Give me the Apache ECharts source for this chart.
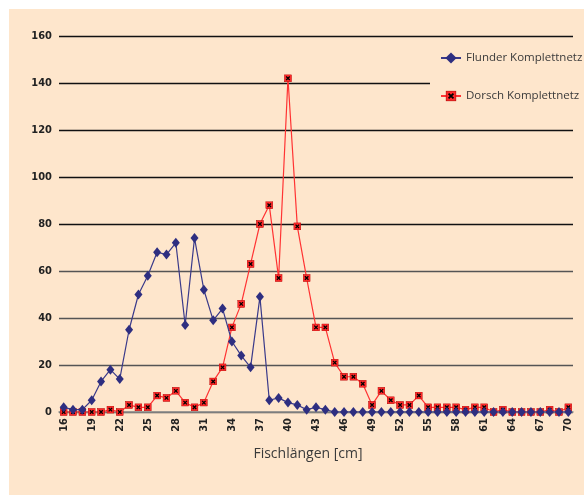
<!DOCTYPE html>
<html>
<head>
<meta charset="utf-8">
<script src="https://cdn.jsdelivr.net/npm/echarts@6/dist/echarts.min.js"></script>
<style>
html,body{margin:0;padding:0;background:#ffffff;}
#bg{position:absolute;left:9px;top:9px;width:575px;height:486px;background:#fee6cc;}
#chart{position:absolute;left:0;top:0;width:584px;height:495px;}
</style>
</head>
<body>
<div id="bg"></div>
<div id="chart"></div>
<script>
var lengths = [];
for (var L = 16; L <= 70; L++) lengths.push(String(L));

var flunder = [2,1,1,5,13,18,14,35,50,58,68,67,72,37,74,52,39,44,30,24,19,49,5,6,4,3,1,2,1,0,
  0,0,0,0,0,0,0,0,0,0,0,0,0,0,0,0,0,0,0,0,0,0,0,0,0];
var dorsch = [0,0,0,0,0,1,0,3,2,2,7,6,9,4,2,4,13,19,36,46,63,80,88,57,142,79,57,36,36,21,
  15,15,12,3,9,5,3,3,7,2,2,2,2,1,2,2,0,1,0,0,0,0,1,0,2];

var seriesNames = ['Flunder Komplettnetz', 'Dorsch Komplettnetz'];
var xTitle = 'Fischlängen [cm]';

var svg = "<svg xmlns='http://www.w3.org/2000/svg' width='16' height='16'>" +
  "<rect x='1' y='1' width='14' height='14' fill='#ff2a2a' stroke='#b00000' stroke-width='1'/>" +
  "<path d='M4.5 4.5L11.5 11.5M11.5 4.5L4.5 11.5' stroke='#000' stroke-width='2.6'/></svg>";
var xSym = 'image://data:image/svg+xml;charset=utf-8,' + encodeURIComponent(svg);

var chart = echarts.init(document.getElementById('chart'), null, {renderer: 'canvas'});
var tickFont = 'Liberation Sans Narrow, DejaVu Sans Condensed, sans-serif';
chart.setOption({
  backgroundColor: 'transparent',
  animation: false,
  grid: {left: 59, right: 11, top: 36, bottom: 83, containLabel: false},
  legend: {
    orient: 'vertical',
    left: 430, top: 44,
    padding: [8, 20, 12, 10],
    itemGap: 26,
    itemWidth: 20, itemHeight: 14,
    backgroundColor: '#fee6cc',
    textStyle: {fontFamily: 'Open Sans, sans-serif', fontSize: 11.5, color: '#3a3a3a'},
    data: seriesNames
  },
  xAxis: {
    type: 'category',
    data: lengths,
    boundaryGap: true,
    name: xTitle,
    nameLocation: 'middle',
    nameGap: 35,
    nameTextStyle: {fontFamily: 'Open Sans, sans-serif', fontSize: 14, color: '#3a3a3a', padding: [0, 16, 0, 0]},
    axisLine: {lineStyle: {color: '#8a8a8a', width: 1.5}},
    axisTick: {interval: 0, length: 4, lineStyle: {color: '#8a8a8a'}},
    axisLabel: {interval: 2, rotate: 90, margin: 6, fontFamily: tickFont, fontWeight: 'bold', fontSize: 11, color: '#222'},
    splitLine: {show: false}
  },
  yAxis: {
    type: 'value',
    min: 0, max: 160, interval: 20,
    axisLine: {show: false},
    axisTick: {show: false},
    axisLabel: {margin: 7, fontFamily: tickFont, fontWeight: 'bold', fontSize: 11, color: '#222'},
    splitLine: {lineStyle: {color: ['#555','#555','#555','#555','#111','#111','#111','#111','#111'], width: 1.3}}
  },
  series: [
    {
      name: seriesNames[0], type: 'line', data: flunder,
      symbol: 'diamond', symbolSize: [8, 10],
      showSymbol: true, showAllSymbol: true,
      lineStyle: {color: '#3a3a8a', width: 1.2},
      itemStyle: {color: '#2e2e80'},
      z: 3
    },
    {
      name: seriesNames[1], type: 'line', data: dorsch,
      symbol: xSym, symbolSize: 8,
      showSymbol: true, showAllSymbol: true,
      lineStyle: {color: '#ff3333', width: 1.2},
      itemStyle: {color: '#ff3333'},
      z: 2
    }
  ]
});
</script>
</body>
</html>
